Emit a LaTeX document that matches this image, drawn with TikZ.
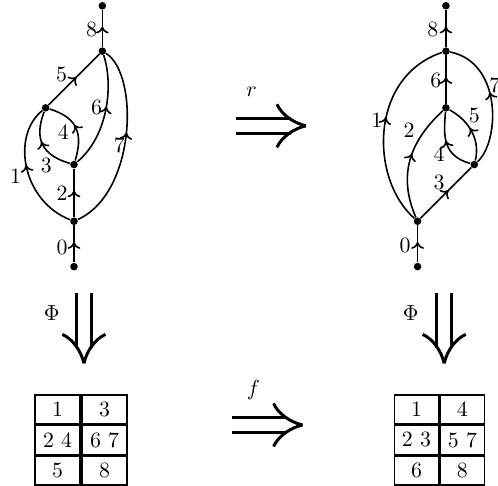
\documentclass[tikz,border=0pt]{standalone}
\usetikzlibrary{arrows.meta}
\usetikzlibrary{decorations.markings}
\usetikzlibrary{matrix}

\tikzset{
  every node/.style={font=\fontsize{10.95}{13.6}\selectfont},
  dot/.style={circle,fill,inner sep=0pt,minimum size=3.8pt},
  flow/.style={line width=0.8pt,postaction={decorate},
    decoration={markings,mark=at position 0.55 with {\arrow{Computer Modern Rightarrow[length=3.4pt,width=6.4pt]}}}},
  lbl/.style={inner sep=0pt},
  dbl/.style={line width=1.5pt},
  tab/.style={matrix of nodes,column sep=0pt,row sep=0pt,
    nodes={draw,line width=0.85pt,inner sep=0pt,outer sep=0pt,minimum height=0.51cm,anchor=center}},
}
\def\gap{0.13}
\def\shaft{1.24}

% double arrow, tip at #1, turned by #2
\newcommand{\bigarrow}[2]{%
  \begin{scope}[shift={(#1)},rotate=#2]
    \draw[dbl] (-\shaft,\gap) -- (-0.27,\gap) (-\shaft,-\gap) -- (-0.27,-\gap);
    \draw[dbl] (-0.51,0.38) .. controls (-0.43,0.2) and (-0.22,0.05) .. (0,0);
    \draw[dbl] (-0.51,-0.38) .. controls (-0.43,-0.2) and (-0.22,-0.05) .. (0,0);
  \end{scope}}

\begin{document}
\begin{tikzpicture}
\useasboundingbox (-1.305,-3.852) rectangle (7.478,4.702);

% left graph
\node[dot] (L0) at (0,0) {};
\node[dot] (L1) at (0,0.8) {};
\node[dot] (L2) at (0,1.8) {};
\node[dot] (L3) at (-0.5,2.8) {};
\node[dot] (L4) at (0.5,3.8) {};
\node[dot] (L5) at (0.5,4.6) {};

\draw[flow] (L0) -- (L1);
\draw[flow] (L1) .. controls (-0.9,1.15) and (-1.12,2.3) .. (L3);
\draw[flow] (L1) -- (L2);
\draw[flow] (L2) .. controls (-0.7,2.0) and (-0.65,2.4) .. (L3);
\draw[flow] (L2) .. controls (0.15,2.3) and (0.1,2.62) .. (L3);
\draw[flow] (L3) -- (L4);
\draw[flow] (L2) .. controls (0.6,2.3) and (0.7,3.2) .. (L4);
\draw[flow] (L1) .. controls (1.1,1.3) and (1.15,3.4) .. (L4);
\draw[flow] (L4) -- (L5);

\node[lbl] (la0) at (-0.21,0.34) {0};
\node[lbl] (la1) at (-1.03,1.59) {1};
\node[lbl] (la2) at (-0.21,1.29) {2};
\node[lbl] (la3) at (-0.49,1.79) {3};
\node[lbl] (la4) at (-0.19,2.38) {4};
\node[lbl] (la5) at (-0.22,3.38) {5};
\node[lbl] (la6) at (0.40,2.80) {6};
\node[lbl] (la7) at (0.80,2.14) {7};
\node[lbl] (la8) at (0.31,4.19) {8};

% right graph
\begin{scope}[xshift=6.06cm]
\node[dot] (R0) at (0,0) {};
\node[dot] (R1) at (0,0.8) {};
\node[dot] (R2) at (1,1.8) {};
\node[dot] (R3) at (0.5,2.8) {};
\node[dot] (R4) at (0.5,3.8) {};
\node[dot] (R5) at (0.5,4.6) {};

\draw[flow] (R0) -- (R1);
\draw[flow] (R1) .. controls (-0.85,1.55) and (-0.85,3.35) .. (R4);
\draw[flow] (R1) .. controls (-0.35,1.6) and (-0.15,2.2) .. (R3);
\draw[flow] (R1) -- (R2);
\draw[flow] (R2) .. controls (0.45,1.95) and (0.45,2.3) .. (R3);
\draw[flow] (R2) .. controls (1.1,2.2) and (0.95,2.55) .. (R3);
\draw[flow] (R3) -- (R4);
\draw[flow] (R2) .. controls (1.45,2.2) and (1.5,3.6) .. (R4);
\draw[flow] (R4) -- (R5);

\node[lbl] (lb0) at (-0.22,0.38) {0};
\node[lbl] (lb1) at (-0.72,2.59) {1};
\node[lbl] (lb2) at (-0.15,2.41) {2};
\node[lbl] (lb3) at (0.38,1.49) {3};
\node[lbl] (lb4) at (0.38,1.99) {4};
\node[lbl] (lb5) at (1.00,2.67) {5};
\node[lbl] (lb6) at (0.32,3.29) {6};
\node[lbl] (lb7) at (1.36,3.20) {7};
\node[lbl] (lb8) at (0.27,4.19) {8};
\end{scope}

% maps
\coordinate (rtip) at (4.09,2.483);
\coordinate (ftip) at (4.03,-2.793);
\coordinate (ptipL) at (0.175,-1.705);
\coordinate (ptipR) at (6.529,-1.705);
\bigarrow{rtip}{0}
\bigarrow{ftip}{0}
\bigarrow{ptipL}{-90}
\bigarrow{ptipR}{-90}

\node[lbl] (rlab) at (3.134,3.085) {$r$};
\node[lbl] (flab) at (3.162,-2.176) {$f$};
\node[lbl] (phiL) at (-0.393,-0.824) {$\Phi$};
\node[lbl] (phiR) at (5.938,-0.824) {$\Phi$};

% tableaux
\matrix (T1) [tab,nodes={minimum width=0.8cm}] at (0.125,-3.057) {
1 & 3 \\
2 4 & 6 7 \\
5 & 8 \\
};
\matrix (T2) [tab,nodes={minimum width=0.78cm}] at (6.446,-3.057) {
1 & 4 \\
2 3 & 5 7 \\
6 & 8 \\
};

\end{tikzpicture}
\end{document}
